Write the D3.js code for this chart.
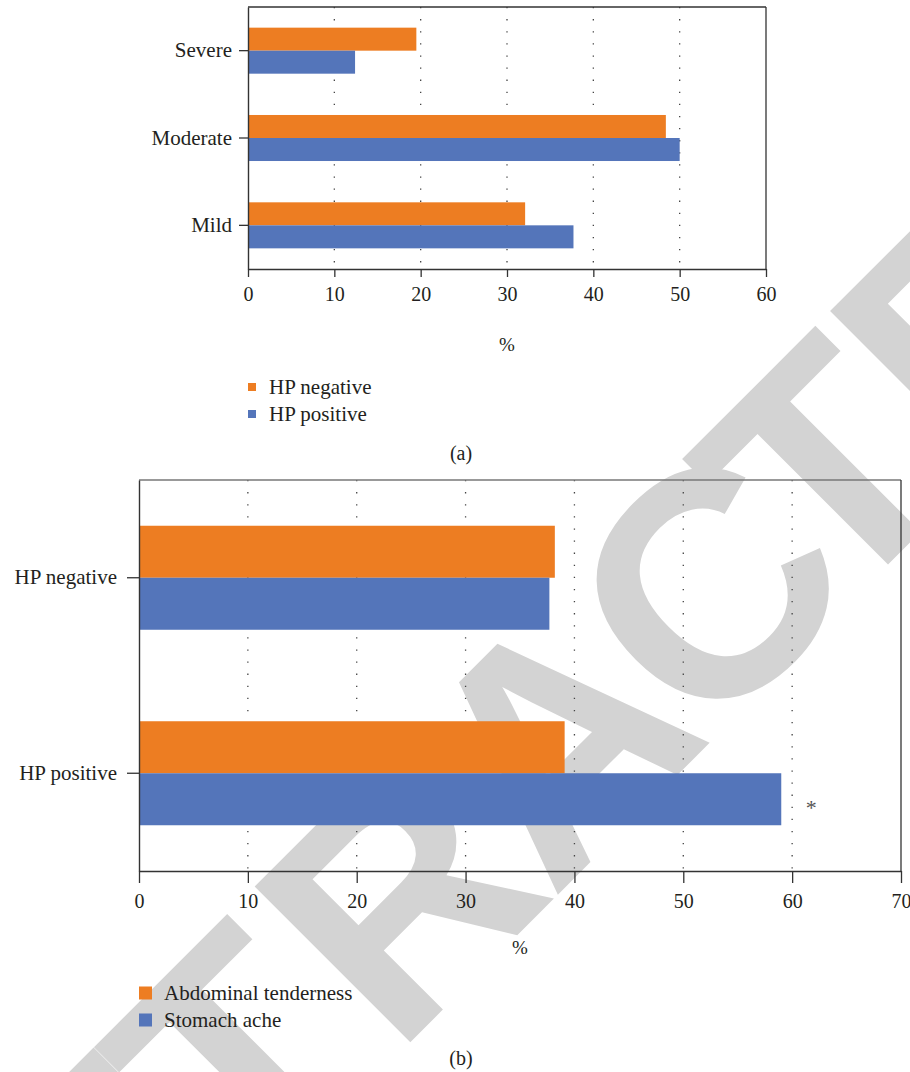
<!DOCTYPE html>
<html>
<head>
<meta charset="utf-8">
<script src="https://cdn.jsdelivr.net/npm/d3@7"></script>
<style>
  body { margin: 0; background: #fff; }
  svg { display: block; }
</style>
</head>
<body>
<svg id="chart" width="910" height="1072"></svg>
<script>
// (a) severity by HP status
const severityCats = ['Severe', 'Moderate', 'Mild'];
const hpNegative = [19.5, 48.4, 32.1];
const hpPositive = [12.4, 50.0, 37.7];
const ticksA = [0, 10, 20, 30, 40, 50, 60];

// (b) symptoms by HP status
const groupCats = ['HP negative', 'HP positive'];
const abdominalTenderness = [38.2, 39.1];
const stomachAche = [37.7, 59.0];
const ticksB = [0, 10, 20, 30, 40, 50, 60, 70];

const orange = '#ed7d22';
const blue = '#5475ba';
const serif = '"Liberation Serif", "DejaVu Serif", "Noto Serif", serif';

const svg = d3.select('#chart');

// watermark sits under the charts
svg.append('text')
  .attr('class', 'wm')
  .attr('transform', 'translate(-1.5,1454) rotate(-45)')
  .attr('dx', '-49 0 0 36 13 7 -25 18 0')
  .style('font-family', '"Liberation Sans", Arial, sans-serif')
  .style('font-weight', 'bold')
  .style('font-size', '320px')
  .style('letter-spacing', '-22px')
  .style('fill', '#d3d3d3')
  .text('RETRACTED');

function drawChart(o) {
  const g = svg.append('g');
  const x = d3.scaleLinear().domain([0, o.xMax]).range([o.left, o.right]);
  const y = d3.scaleBand().domain(o.cats).range([o.top, o.bottom])
    .paddingInner(o.pad).paddingOuter(o.pad / 2);
  const inner = d3.scaleBand().domain([0, 1]).range([0, y.bandwidth()]);

  // dotted grid
  g.selectAll('.grid').data(o.ticks.filter(d => d > 0 && d < o.xMax)).enter()
    .append('line')
    .attr('x1', d => x(d)).attr('x2', d => x(d))
    .attr('y1', o.top).attr('y2', o.bottom)
    .attr('stroke', '#444').attr('stroke-width', 1.3)
    .attr('stroke-dasharray', '1.3,10.8');

  // bars
  const rows = o.cats.map((c, i) => ({ cat: c, vals: [o.s1[i], o.s2[i]] }));
  const grp = g.selectAll('.row').data(rows).enter().append('g')
    .attr('transform', d => `translate(0,${y(d.cat)})`);
  grp.selectAll('rect').data(d => d.vals).enter().append('rect')
    .attr('x', x(0))
    .attr('y', (d, i) => inner(i))
    .attr('width', d => x(d) - x(0))
    .attr('height', inner.bandwidth())
    .attr('fill', (d, i) => i === 0 ? orange : blue);

  // frame
  g.append('line').attr('x1', o.left).attr('x2', o.right).attr('y1', o.top).attr('y2', o.top)
    .attr('stroke', o.topColor).attr('stroke-width', 1.3);
  g.append('line').attr('x1', o.right).attr('x2', o.right).attr('y1', o.top).attr('y2', o.bottom)
    .attr('stroke', '#333').attr('stroke-width', 1.3);

  const xAxis = g.append('g').attr('transform', `translate(0,${o.bottom})`)
    .call(d3.axisBottom(x).tickValues(o.ticks).tickSize(o.tickLen).tickSizeOuter(0).tickPadding(o.xPad));
  const yAxis = g.append('g').attr('transform', `translate(${o.left},0)`)
    .call(d3.axisLeft(y).tickSize(o.yTick).tickSizeOuter(0).tickPadding(o.yPad));
  [xAxis, yAxis].forEach(a => {
    a.attr('font-family', null).attr('font-size', null);
    a.select('.domain').attr('stroke', '#333').attr('stroke-width', 1.4);
    a.selectAll('.tick line').attr('stroke', '#333').attr('stroke-width', 1.3);
  });
  xAxis.selectAll('.tick text').style('font-size', o.font + 'px');
  yAxis.selectAll('.tick text').style('font-size', o.catFont + 'px');

  g.append('text').attr('x', (o.left + o.right) / 2).attr('y', o.pctY)
    .attr('text-anchor', 'middle').style('font-size', '19px').text('%');

  // legend
  o.legend.forEach((name, i) => {
    g.append('rect').attr('x', o.legX).attr('y', o.legY + i * o.legGap - o.sq / 2)
      .attr('width', o.sq).attr('height', o.sq).attr('fill', i === 0 ? orange : blue);
    g.append('text').attr('x', o.legTextX).attr('y', o.legY + i * o.legGap)
      .attr('dy', '0.33em').style('font-size', o.legFont + 'px').text(name);
  });

  g.append('text').attr('x', 461).attr('y', o.capY).attr('dy', '0.33em')
    .attr('text-anchor', 'middle').style('font-size', '20px').text(o.caption);
  return x;
}

drawChart({
  cats: severityCats, s1: hpNegative, s2: hpPositive, ticks: ticksA, xMax: 60,
  left: 248, right: 766, top: 7, bottom: 269, pad: 0.473,
  tickLen: 8, xPad: 10, yTick: 9, yPad: 7, font: 20, catFont: 21, legFont: 21, topColor: '#333',
  pctY: 351, legend: ['HP negative', 'HP positive'], legX: 248, legY: 387, legGap: 27,
  sq: 8, legTextX: 269, capY: 453, caption: '(a)'
});

const xB = drawChart({
  cats: groupCats, s1: abdominalTenderness, s2: stomachAche, ticks: ticksB, xMax: 70,
  left: 139, right: 901, top: 480, bottom: 871, pad: 0.468,
  tickLen: 12, xPad: 11, yTick: 12, yPad: 10, font: 20, catFont: 21, legFont: 21, topColor: '#777',
  pctY: 954, legend: ['Abdominal tenderness', 'Stomach ache'], legX: 139, legY: 993, legGap: 27,
  sq: 13, legTextX: 164, capY: 1058, caption: '(b)'
});

// significance mark next to HP positive / stomach ache
svg.append('text').attr('class', 'sig').attr('x', xB(stomachAche[1]) + 30).attr('y', 815)
  .attr('text-anchor', 'middle').style('font-size', '22px').text('*');

// chart texts in serif
svg.selectAll('text:not(.wm)').style('font-family', serif).style('fill', '#231f20');
svg.select('.sig').style('fill', '#555');
</script>
</body>
</html>
